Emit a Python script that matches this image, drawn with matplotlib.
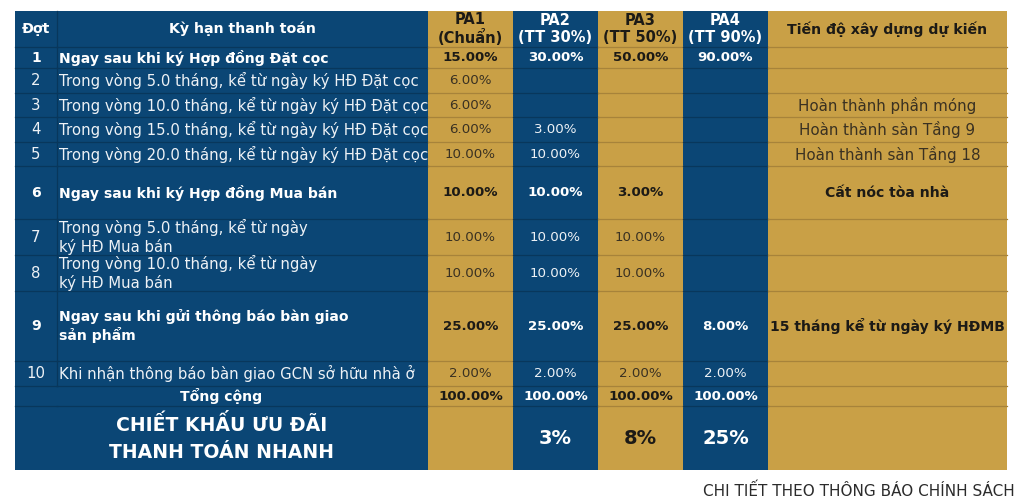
import matplotlib
matplotlib.use("Agg")
import matplotlib.pyplot as plt
from matplotlib.patches import Rectangle

BLUE = "#0b4675"
GOLD = "#c9a046"
LINE_BLUE = "#08375c"
LINE_GOLD = "#a7833a"
DARK = "#1c1a16"
DARK_REG = "#3a3122"
WHITE = "#ffffff"

# table data
headers = ["Đợt", "Kỳ hạn thanh toán", "PA1\n(Chuẩn)", "PA2\n(TT 30%)",
           "PA3\n(TT 50%)", "PA4\n(TT 90%)", "Tiến độ xây dựng dự kiến"]
dot = ["1", "2", "3", "4", "5", "6", "7", "8", "9", "10"]
terms = [
    "Ngay sau khi ký Hợp đồng Đặt cọc",
    "Trong vòng 5.0 tháng, kể từ ngày ký HĐ Đặt cọc",
    "Trong vòng 10.0 tháng, kể từ ngày ký HĐ Đặt cọc",
    "Trong vòng 15.0 tháng, kể từ ngày ký HĐ Đặt cọc",
    "Trong vòng 20.0 tháng, kể từ ngày ký HĐ Đặt cọc",
    "Ngay sau khi ký Hợp đồng Mua bán",
    "Trong vòng 5.0 tháng, kể từ ngày\nký HĐ Mua bán",
    "Trong vòng 10.0 tháng, kể từ ngày\nký HĐ Mua bán",
    "Ngay sau khi gửi thông báo bàn giao\nsản phẩm",
    "Khi nhận thông báo bàn giao GCN sở hữu nhà ở",
]
pa1 = ["15.00%", "6.00%", "6.00%", "6.00%", "10.00%", "10.00%", "10.00%", "10.00%", "25.00%", "2.00%"]
pa2 = ["30.00%", "", "", "3.00%", "10.00%", "10.00%", "10.00%", "10.00%", "25.00%", "2.00%"]
pa3 = ["50.00%", "", "", "", "", "3.00%", "10.00%", "10.00%", "25.00%", "2.00%"]
pa4 = ["90.00%", "", "", "", "", "", "", "", "8.00%", "2.00%"]
progress = ["", "", "Hoàn thành phần móng", "Hoàn thành sàn Tầng 9",
            "Hoàn thành sàn Tầng 18", "Cất nóc tòa nhà", "", "",
            "15 tháng kể từ ngày ký HĐMB", ""]
bold_rows = [True, False, False, False, False, True, False, False, True, False]
totals = ["100.00%", "100.00%", "100.00%", "100.00%"]
discount = ["", "3%", "8%", "25%"]

# layout (pixels)
col_x = [15, 57, 428, 513, 598, 683, 768, 1007]
row_y = [11, 47, 68, 93, 117, 142, 166, 219, 255, 291, 361, 386, 406, 470]
col_fill = [BLUE, BLUE, GOLD, BLUE, GOLD, BLUE, GOLD]

plt.rcParams['font.family'] = ['DejaVu Sans']
fig = plt.figure(figsize=(10.24, 4.98), dpi=100)
ax = fig.add_axes([0, 0, 1, 1])
ax.set_xlim(0, 1024)
ax.set_ylim(498, 0)
ax.axis("off")

# cell backgrounds
for j in range(7):
    ax.add_patch(Rectangle((col_x[j], row_y[0]), col_x[j + 1] - col_x[j],
                           row_y[-1] - row_y[0], color=col_fill[j], lw=0))

# horizontal grid lines
for y in row_y[1:-1]:
    for j in range(7):
        c = LINE_BLUE if col_fill[j] == BLUE else LINE_GOLD
        ax.plot([col_x[j], col_x[j + 1]], [y, y], color=c, lw=0.9)
# divider between Đợt and Kỳ hạn columns
ax.plot([col_x[1], col_x[1]], [row_y[0], row_y[-3]], color=LINE_BLUE, lw=0.9)

FS_VAL = 9.6
FS_REG = 10.7
FS_BOLD = 10.1


def txt_color(j, bold):
    if col_fill[j] == BLUE:
        return WHITE if bold else "#eef2f6"
    return DARK if bold else DARK_REG


def cell_text(j, r0, r1, s, bold, size, ha="center", x=None, ls=1.2):
    if not s:
        return
    yc = (row_y[r0] + row_y[r1]) / 2
    if x is None:
        x = (col_x[j] + col_x[j + 1]) / 2
    ax.text(x, yc, s, ha=ha, va="center", fontsize=size,
            fontweight="bold" if bold else "normal",
            color=txt_color(j, bold), linespacing=ls)


# header
for j, h in enumerate(headers):
    size = 10.5 if "\n" in h else 10.2
    cell_text(j, 0, 1, h, True, size, ls=1.1)

# body rows
for i in range(len(dot)):
    b = bold_rows[i]
    fs = FS_BOLD if b else FS_REG
    cell_text(0, i + 1, i + 2, dot[i], b, fs)
    cell_text(1, i + 1, i + 2, terms[i], b, fs, ha="left", x=col_x[1] + 2)
    for j, vals in zip(range(2, 6), (pa1, pa2, pa3, pa4)):
        cell_text(j, i + 1, i + 2, vals[i], b, FS_VAL)
    cell_text(6, i + 1, i + 2, progress[i], b, FS_BOLD if b else 10.9)

# total row
nr = len(dot) + 1
ax.text((col_x[0] + col_x[2]) / 2, (row_y[nr] + row_y[nr + 1]) / 2, "Tổng cộng",
        ha="center", va="center", fontsize=FS_BOLD, fontweight="bold", color=WHITE)
for j, v in zip(range(2, 6), totals):
    cell_text(j, nr, nr + 1, v, True, FS_VAL)

# discount row
ax.text((col_x[0] + col_x[2]) / 2, (row_y[nr + 1] + row_y[nr + 2]) / 2,
        "CHIẾT KHẤU ƯU ĐÃI\nTHANH TOÁN NHANH", ha="center", va="center",
        fontsize=13.6, fontweight="bold", color=WHITE, linespacing=1.5)
for j, v in zip(range(2, 6), discount):
    cell_text(j, nr + 1, nr + 2, v, True, 14)

# footnote
ax.text(1015, 491, "CHI TIẾT THEO THÔNG BÁO CHÍNH SÁCH", ha="right", va="center",
        fontsize=11, color="#2b2b2b")

fig.savefig("out.png", dpi=100)
